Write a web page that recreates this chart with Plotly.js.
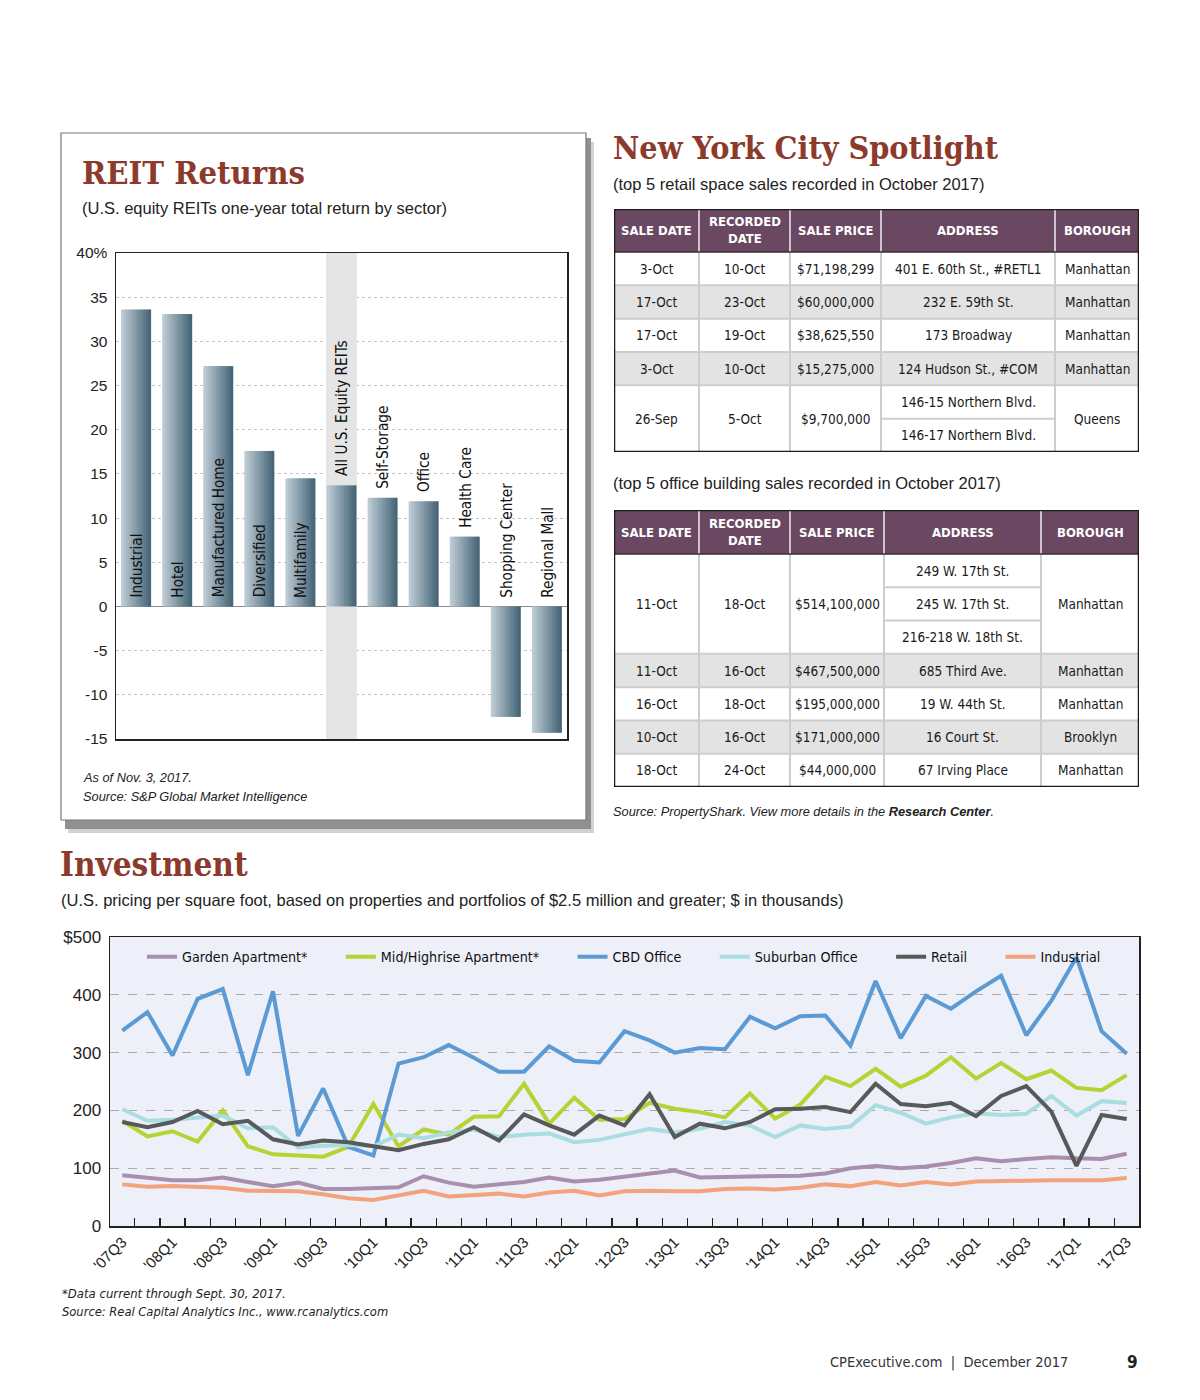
<!DOCTYPE html>
<html><head><meta charset="utf-8">
<script src="https://cdn.plot.ly/plotly-3.0.1.min.js"></script>
<style>
html,body{margin:0;padding:0;background:#fff}
#page{width:1200px;height:1400px}
</style>
</head><body><div id="page"></div>
<script>
// ---------------- REIT Returns ----------------
const reitSectors = ["Industrial","Hotel","Manufactured Home","Diversified","Multifamily","All U.S. Equity REITs","Self-Storage","Office","Health Care","Shopping Center","Regional Mall"];
const reitReturns = [33.6,33.1,27.2,17.6,14.5,13.7,12.3,11.9,7.9,-12.5,-14.3];
const reitHighlight = "All U.S. Equity REITs";
const reitRange = [-15, 40];
const reitTickVals = [-15,-10,-5,0,5,10,15,20,25,30,35,40];
const reitTickText = ["-15","-10","-5","0","5","10","15","20","25","30","35","40%"];

// ---------------- NYC tables ----------------
const tableHeaders = ["SALE DATE","RECORDED<br>DATE","SALE PRICE","ADDRESS","BOROUGH"];
const retailSaleDate = ["3-Oct","17-Oct","17-Oct","3-Oct","26-Sep"];
const retailRecorded = ["10-Oct","23-Oct","19-Oct","10-Oct","5-Oct"];
const retailPrice = ["$71,198,299","$60,000,000","$38,625,550","$15,275,000","$9,700,000"];
const retailAddress = [["401 E. 60th St., #RETL1"],["232 E. 59th St."],["173 Broadway"],["124 Hudson St., #COM"],["146-15 Northern Blvd.","146-17 Northern Blvd."]];
const retailBorough = ["Manhattan","Manhattan","Manhattan","Manhattan","Queens"];

const officeSaleDate = ["11-Oct","11-Oct","16-Oct","10-Oct","18-Oct"];
const officeRecorded = ["18-Oct","16-Oct","18-Oct","16-Oct","24-Oct"];
const officePrice = ["$514,100,000","$467,500,000","$195,000,000","$171,000,000","$44,000,000"];
const officeAddress = [["249 W. 17th St.","245 W. 17th St.","216-218 W. 18th St."],["685 Third Ave."],["19 W. 44th St."],["16 Court St."],["67 Irving Place"]];
const officeBorough = ["Manhattan","Manhattan","Manhattan","Brooklyn","Manhattan"];

// ---------------- Investment ----------------
const quarters = ["'07Q3","'07Q4","'08Q1","'08Q2","'08Q3","'08Q4","'09Q1","'09Q2","'09Q3","'09Q4","'10Q1","'10Q2","'10Q3","'10Q4","'11Q1","'11Q2","'11Q3","'11Q4","'12Q1","'12Q2","'12Q3","'12Q4","'13Q1","'13Q2","'13Q3","'13Q4","'14Q1","'14Q2","'14Q3","'14Q4","'15Q1","'15Q2","'15Q3","'15Q4","'16Q1","'16Q2","'16Q3","'16Q4","'17Q1","'17Q2","'17Q3"];
const gardenApt = [88,83,79,79,84,76,69,75,64,64,66,67,86,75,68,72,76,84,77,80,85,90,96,84,85,86,87,87,91,100,104,100,103,109,117,112,116,119,117,116,125];
const midHighApt = [182,155,164,146,200,138,124,122,120,137,211,138,167,158,189,190,246,177,222,184,185,213,203,197,188,229,186,210,258,242,272,241,260,292,255,282,254,269,239,235,261];
const cbdOffice = [338,370,295,393,410,261,406,156,238,137,122,281,292,313,291,267,267,311,286,283,337,321,300,308,306,362,342,363,364,312,424,325,398,376,406,433,330,390,465,337,298];
const suburbanOffice = [202,182,184,188,191,169,171,136,139,140,138,158,152,162,167,154,158,160,145,149,159,168,162,168,180,174,154,174,168,172,209,196,177,188,195,192,194,225,191,216,213];
const retail = [180,171,180,199,176,182,150,141,148,145,138,131,142,150,171,148,193,174,158,191,174,228,154,177,169,180,202,203,206,197,246,211,207,213,190,225,242,198,104,192,185];
const industrial = [72,68,69,67,66,61,61,60,55,48,45,53,61,51,53,56,51,58,61,53,60,61,60,60,64,65,63,66,72,69,76,70,76,72,77,78,79,79,79,79,83];
const investNames = ["Garden Apartment*","Mid/Highrise Apartment*","CBD Office","Suburban Office","Retail","Industrial"];
const investSeries = [gardenApt, midHighApt, cbdOffice, suburbanOffice, retail, industrial];
const investTickVals = [0,100,200,300,400,500];
const investTickText = ["0","100","200","300","400","$500"];

// ---------------- styling ----------------
const W = 1200, H = 1400;
const px = x => x / W, py = y => 1 - y / H;
const SANS = "'Liberation Sans', Arial, Helvetica, sans-serif";
const NARROW = "'DejaVu Sans Condensed', Roboto, sans-serif";
const SERIF = "'DejaVu Serif Condensed', 'DejaVu Serif', serif";
const TITLE_COL = "#8c3a2c";
const investColors = ["#a88fae","#b6d334","#5b9ad4","#a9dde2","#58595b","#f2a27c"];

const traces = [];
const shapes = [];
const annotations = [];

// ---- highlight band for the all-REIT bar ----
const BW = 0.73;
traces.push({type: 'bar', x: [reitHighlight], y: [reitRange[1] - reitRange[0]], base: [reitRange[0]],
  xaxis: 'x', yaxis: 'y', width: BW + 0.02, marker: {color: '#e5e5e5', line: {width: 0}}, showlegend: false, hoverinfo: 'skip'});

// ---- bar chart with horizontal gradient (sliced bars) ----
const NS = 12;
const cL = [188, 203, 212], cR = [70, 101, 119];
for (let k = 0; k < NS; k++) {
  const t = k / (NS - 1);
  const c = cL.map((v, i) => Math.round(v + (cR[i] - v) * t));
  const w = BW / NS;
  traces.push({
    type: 'bar', x: reitSectors, y: reitReturns, xaxis: 'x', yaxis: 'y',
    offset: -BW / 2 + k * w, width: k < NS - 1 ? w * 1.3 : w,
    marker: {color: 'rgb(' + c.join(',') + ')', line: {width: 0}},
    showlegend: false, hoverinfo: 'skip'
  });
}
for (let i = 0; i < reitSectors.length; i++) {
  const v = reitReturns[i];
  const yv = (v >= 14 || v < 0) ? 0 : v;
  annotations.push({xref: 'x', yref: 'y', x: i, y: yv, xanchor: 'center', yanchor: 'bottom', yshift: 7, xshift: 1,
    text: reitSectors[i], textangle: -90, showarrow: false, font: {family: NARROW, size: 15.2, color: '#111'}});
}

// ---- panel box with shadow ----
shapes.push({type: 'rect', xref: 'paper', yref: 'paper', x0: px(68), x1: px(594), y0: py(833), y1: py(142),
  fillcolor: '#d2d2d2', line: {width: 0}, layer: 'below'});
shapes.push({type: 'rect', xref: 'paper', yref: 'paper', x0: px(65), x1: px(591), y0: py(829), y1: py(138),
  fillcolor: '#909090', line: {width: 0}, layer: 'below'});
shapes.push({type: 'rect', xref: 'paper', yref: 'paper', x0: px(61), x1: px(586), y0: py(820), y1: py(133),
  fillcolor: '#ffffff', line: {color: '#777', width: 1.2}, layer: 'below'});

// ---- line chart ----
shapes.push({type: 'rect', xref: 'paper', yref: 'paper', x0: px(110), x1: px(1139), y0: py(1226), y1: py(937),
  fillcolor: '#edf0f8', line: {width: 0}, layer: 'below'});
for (let i = 0; i < investSeries.length; i++) {
  const label = i < investNames.length - 1 ? investNames[i] + '\u00a0'.repeat(7) : investNames[i];
  traces.push({type: 'scatter', mode: 'lines', x: quarters, y: investSeries[i], xaxis: 'x2', yaxis: 'y2',
    name: label, line: {color: investColors[i], width: 4}, hoverinfo: 'skip'});
}

// ---- tables ----
function cellText(ref, x, y, text, font) {
  const a = {x: x, y: y, text: text, showarrow: false, xanchor: 'center', yanchor: 'middle', font: font};
  a.xref = ref.xref; a.yref = ref.yref;
  annotations.push(a);
}
function addShape(ref, s) {
  s.xref = ref.xref; s.yref = ref.yref;
  shapes.push(s);
}
function buildTable(xa, ya, columns, splitIdx, colW, headH, subH) {
  const Wt = colW.reduce((a, b) => a + b, 0);
  const nRec = columns[0].length;
  const spans = columns[splitIdx].map(a => a.length);
  const nSub = spans.reduce((a, b) => a + b, 0);
  const Ht = headH + nSub * subH;
  const xs = [0];
  colW.forEach(w => xs.push(xs[xs.length - 1] + w));
  const ref = {xref: xa, yref: ya};
  const SEP = '#cdcdcd';
  addShape(ref, {type: 'rect', x0: 0, x1: Wt, y0: 0, y1: headH, fillcolor: '#6b4862', line: {width: 0}});
  let y = headH;
  const recY = [];
  for (let r = 0; r < nRec; r++) {
    const h = spans[r] * subH;
    recY.push([y, y + h]);
    addShape(ref, {type: 'rect', x0: 0, x1: Wt, y0: y, y1: y + h, fillcolor: r % 2 ? '#e3e3e3' : '#ffffff', line: {width: 0}});
    y += h;
  }
  for (let r = 0; r < nRec - 1; r++) {
    addShape(ref, {type: 'line', x0: 0, x1: Wt, y0: recY[r][1], y1: recY[r][1], line: {color: SEP, width: 2}});
  }
  for (let r = 0; r < nRec; r++) {
    for (let k = 1; k < spans[r]; k++) {
      const yy = recY[r][0] + k * subH;
      addShape(ref, {type: 'line', x0: xs[splitIdx], x1: xs[splitIdx + 1], y0: yy, y1: yy, line: {color: SEP, width: 2}});
    }
  }
  for (let c = 1; c < colW.length; c++) {
    addShape(ref, {type: 'line', x0: xs[c], x1: xs[c], y0: 0, y1: headH, line: {color: '#cfc4cc', width: 2}});
    addShape(ref, {type: 'line', x0: xs[c], x1: xs[c], y0: headH, y1: Ht, line: {color: SEP, width: 2}});
  }
  addShape(ref, {type: 'line', x0: 0, x1: Wt, y0: headH, y1: headH, line: {color: '#3a2a36', width: 1.5}});
  addShape(ref, {type: 'rect', x0: 0, x1: Wt, y0: 0, y1: Ht, line: {color: '#1c1c1c', width: 2.5}});
  for (let c = 0; c < tableHeaders.length; c++) {
    cellText(ref, (xs[c] + xs[c + 1]) / 2, headH / 2, '<b>' + tableHeaders[c] + '</b>', {family: NARROW, size: 13, color: '#ffffff'});
  }
  const bodyFont = {family: NARROW, size: 13.5, color: '#1a1a1a'};
  for (let c = 0; c < columns.length; c++) {
    const cx = (xs[c] + xs[c + 1]) / 2;
    for (let r = 0; r < nRec; r++) {
      const v = columns[c][r];
      const a = recY[r][0], b = recY[r][1];
      if (Array.isArray(v)) {
        for (let k = 0; k < v.length; k++) cellText(ref, cx, a + (k + 0.5) * subH, v[k], bodyFont);
      } else {
        cellText(ref, cx, (a + b) / 2, v, bodyFont);
      }
    }
  }
  return Ht;
}
const t1H = buildTable('x3', 'y3', [retailSaleDate, retailRecorded, retailPrice, retailAddress, retailBorough], 3, [85, 91, 91, 174, 84], 43, 33.33);
const t2H = buildTable('x4', 'y4', [officeSaleDate, officeRecorded, officePrice, officeAddress, officeBorough], 3, [85, 91, 94, 157, 98], 44, 33.29);

// invisible anchors so the table subplots exist
traces.push({type: 'scatter', mode: 'markers', x: [0], y: [0], xaxis: 'x3', yaxis: 'y3', marker: {opacity: 0}, showlegend: false, hoverinfo: 'skip'});
traces.push({type: 'scatter', mode: 'markers', x: [0], y: [0], xaxis: 'x4', yaxis: 'y4', marker: {opacity: 0}, showlegend: false, hoverinfo: 'skip'});

// ---- page text ----
function txt(x, y, text, font, anchor) {
  annotations.push({xref: 'paper', yref: 'paper', x: px(x), y: py(y), text: text, showarrow: false,
    xanchor: anchor || 'left', yanchor: 'middle', font: font});
}
txt(80, 172, '<b>REIT Returns</b>', {family: SERIF, size: 32.5, color: TITLE_COL});
txt(80, 208, '(U.S. equity REITs one-year total return by sector)', {family: SANS, size: 16.5, color: '#222'});
txt(81, 777, '<i>As of Nov. 3, 2017.</i>', {family: SANS, size: 12.8, color: '#222'});
txt(81, 796, '<i>Source: S&amp;P Global Market Intelligence</i>', {family: SANS, size: 12.8, color: '#222'});
txt(611, 148, '<b>New York City Spotlight</b>', {family: SERIF, size: 32, color: TITLE_COL});
txt(611, 184, '(top 5 retail space sales recorded in October 2017)', {family: SANS, size: 16.5, color: '#222'});
txt(611, 483, '(top 5 office building sales recorded in October 2017)', {family: SANS, size: 16.5, color: '#222'});
txt(611, 811, '<i>Source: PropertyShark. View more details in the <b>Research Center</b>.</i>', {family: SANS, size: 12.8, color: '#222'});
txt(58, 864, '<b>Investment</b>', {family: SERIF, size: 33, color: TITLE_COL});
txt(59, 900, '(U.S. pricing per square foot, based on properties and portfolios of $2.5 million and greater; $ in thousands)', {family: SANS, size: 16.5, color: '#222'});
txt(60, 1293, '<i>*Data current through Sept. 30, 2017.</i>', {family: NARROW, size: 13, color: '#222'});
txt(60, 1311, '<i>Source: Real Capital Analytics Inc., www.rcanalytics.com</i>', {family: NARROW, size: 12.8, color: '#222'});
txt(1070, 1362, 'CPExecutive.com  |  December 2017', {family: NARROW, size: 14.5, color: '#333'}, 'right');
txt(1140, 1362, '<b>9</b>', {family: NARROW, size: 17, color: '#222'}, 'right');

const layout = {
  width: W, height: H, margin: {l: 0, r: 0, t: 0, b: 0},
  paper_bgcolor: '#ffffff', plot_bgcolor: 'rgba(0,0,0,0)',
  barmode: 'overlay', showlegend: true,
  xaxis: {domain: [px(116), px(567)], anchor: 'y', type: 'category', categoryorder: 'array', categoryarray: reitSectors, range: [-0.49, 10.49],
    showticklabels: false, ticks: '', showgrid: false, showline: true, mirror: true, linecolor: '#222', linewidth: 1.5, fixedrange: true},
  yaxis: {domain: [py(739), py(253)], anchor: 'x', range: reitRange, tickmode: 'array', tickvals: reitTickVals, ticktext: reitTickText,
    showgrid: true, gridcolor: '#c4c4c4', griddash: 'dot', gridwidth: 1, zeroline: true, zerolinecolor: '#8a8a8a', zerolinewidth: 1.5,
    showline: true, mirror: true, linecolor: '#222', linewidth: 1.5, ticks: '', ticklabelstandoff: 4,
    tickfont: {family: SANS, size: 15.5, color: '#222'}, fixedrange: true},
  xaxis2: {domain: [px(110), px(1139)], anchor: 'y2', type: 'category', range: [-0.49, 40.49],
    tickmode: 'array', tickvals: quarters, ticktext: quarters.map((q, i) => i % 2 === 0 ? q : ''),
    tickson: 'boundaries', ticks: 'inside', ticklen: 8, tickwidth: 1.2, tickcolor: '#222', tickangle: -45,
    tickfont: {family: SANS, size: 15, color: '#222'}, showgrid: false, showline: true, mirror: true, linecolor: '#222', linewidth: 1.5, fixedrange: true},
  yaxis2: {domain: [py(1226), py(937)], anchor: 'x2', range: [0, 500], tickmode: 'array', tickvals: investTickVals, ticktext: investTickText,
    showgrid: true, gridcolor: '#ababab', griddash: 'dash', gridwidth: 1, zeroline: false, showline: true, mirror: true,
    linecolor: '#222', linewidth: 1.5, ticks: '', ticklabelstandoff: 4, tickfont: {family: SANS, size: 17, color: '#222'}, fixedrange: true},
  xaxis3: {domain: [px(614), px(1139)], anchor: 'y3', range: [0, 525], visible: false, fixedrange: true},
  yaxis3: {domain: [py(209 + t1H), py(209)], anchor: 'x3', range: [t1H, 0], visible: false, fixedrange: true},
  xaxis4: {domain: [px(614), px(1139)], anchor: 'y4', range: [0, 525], visible: false, fixedrange: true},
  yaxis4: {domain: [py(510 + t2H), py(510)], anchor: 'x4', range: [t2H, 0], visible: false, fixedrange: true},
  legend: {orientation: 'h', x: px(624), xanchor: 'center', y: py(957), yanchor: 'middle', bgcolor: 'rgba(0,0,0,0)',
    font: {family: NARROW, size: 14.2, color: '#111'}, itemwidth: 30, traceorder: 'normal'},
  shapes: shapes, annotations: annotations
};
Plotly.newPlot('page', traces, layout, {staticPlot: true, displayModeBar: false});
</script></body></html>
